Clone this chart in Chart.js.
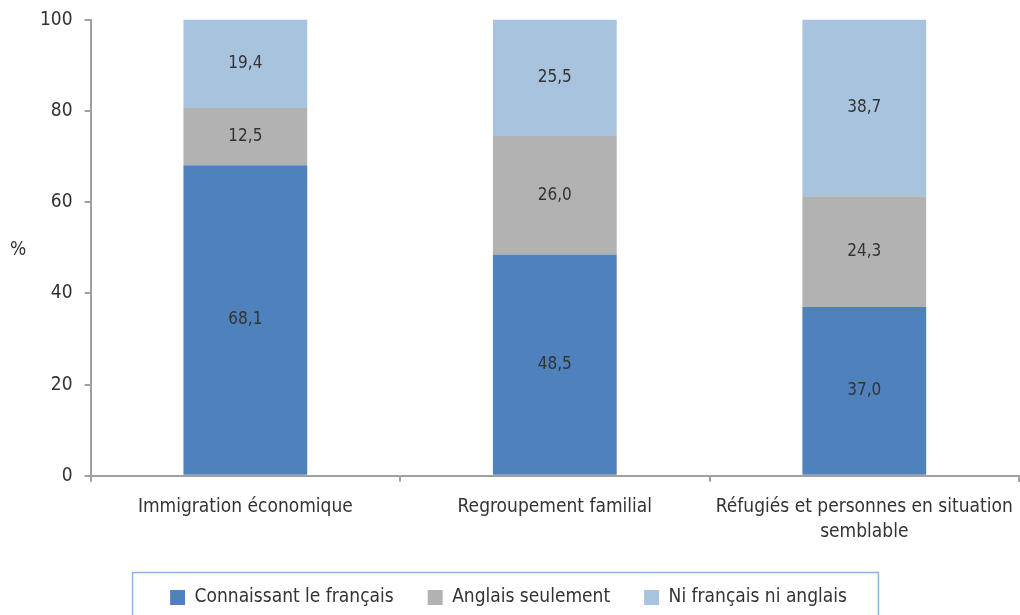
<!DOCTYPE html>
<html>
<head>
<meta charset="utf-8">
<script src="https://cdn.jsdelivr.net/npm/chart.js@4.4.1/dist/chart.umd.min.js"></script>
<style>
html,body{margin:0;padding:0;background:#fff;overflow:hidden;}
#wrap{width:1020px;height:615px;position:relative;}
</style>
</head>
<body>
<div id="wrap"><canvas id="c" width="1020" height="615"></canvas></div>
<script>
const categories = ['Immigration économique', 'Regroupement familial', ['Réfugiés et personnes en situation', 'semblable']];
const seriesNames = ['Connaissant le français', 'Anglais seulement', 'Ni français ni anglais'];
const francais = [68.1, 48.5, 37.0];
const anglaisSeulement = [12.5, 26.0, 24.3];
const niFrNiAn = [19.4, 25.5, 38.7];
const yTicks = [0, 20, 40, 60, 80, 100];
const yTitle = '%';

const FONT = "'Liberation Sans Narrow', 'Arial Narrow', 'DejaVu Sans Condensed', sans-serif";
const colors = ['#4f81bd', '#b2b2b2', '#a8c3de'];
const textColor = '#333333';
const axisColor = '#a0a0a0';

const labelPlugin = {
  id: 'extras',
  afterLayout(chart) {
    const lg = chart.legend;
    if (lg) { lg.left -= 15; lg.right -= 15; }
  },
  afterDatasetsDraw(chart) {
    const ctx = chart.ctx;
    ctx.save();
    ctx.font = '17px ' + FONT;
    ctx.fillStyle = textColor;
    ctx.textAlign = 'center';
    ctx.textBaseline = 'middle';
    chart.data.datasets.forEach((ds, i) => {
      const meta = chart.getDatasetMeta(i);
      meta.data.forEach((bar, j) => {
        const v = ds.data[j];
        const yc = (bar.y + bar.base) / 2;
        ctx.fillText(v.toFixed(1).replace('.', ','), bar.x, yc);
      });
    });
    // y title
    ctx.font = '19px ' + FONT;
    ctx.textAlign = 'center';
    const ys = chart.scales.y;
    ctx.fillText(yTitle, 18, (ys.top + ys.bottom) / 2 + 2);
    // legend border
    const lg = chart.legend;
    if (lg && lg.legendHitBoxes && lg.legendHitBoxes.length) {
      const hb = lg.legendHitBoxes;
      const l = Math.min(...hb.map(h => h.left)) - 38;
      const r = Math.max(...hb.map(h => h.left + h.width)) + 31;
      const t = hb[0].top - 16;
      ctx.strokeStyle = '#8db3e2';
      ctx.lineWidth = 1.5;
      ctx.strokeRect(l + 0.5, t + 0.5, r - l, chart.height - t + 10);
    }
    ctx.restore();
  }
};

new Chart(document.getElementById('c'), {
  type: 'bar',
  data: {
    labels: categories,
    datasets: [
      { label: seriesNames[0], data: francais, backgroundColor: colors[0] },
      { label: seriesNames[1], data: anglaisSeulement, backgroundColor: colors[1] },
      { label: seriesNames[2], data: niFrNiAn, backgroundColor: colors[2] }
    ]
  },
  options: {
    responsive: false,
    animation: false,
    devicePixelRatio: 1,
    layout: { padding: { left: 28, right: 1, top: 0, bottom: -2 } },
    datasets: { bar: { categoryPercentage: 0.4, barPercentage: 1.0, borderWidth: 0 } },
    plugins: {
      legend: {
        position: 'bottom',
        labels: {
          font: { family: FONT, size: 19 },
          color: textColor,
          boxWidth: 15,
          boxHeight: 15,
          padding: 34
        }
      },
      tooltip: { enabled: false }
    },
    scales: {
      x: {
        stacked: true,
        afterFit(scale) { scale.height -= 4; scale.paddingRight = 0; scale.paddingLeft = 0; },
        border: { display: true, color: axisColor, width: 2 },
        grid: { display: true, offset: true, drawOnChartArea: false, drawTicks: true, tickLength: 6, color: axisColor, lineWidth: 2 },
        ticks: { font: { family: FONT, size: 19, lineHeight: 1.32 }, color: textColor, padding: 13, maxRotation: 0, autoSkip: false }
      },
      y: {
        stacked: true,
        min: 0, max: 100,
        afterBuildTicks(axis) { axis.ticks = yTicks.map(v => ({ value: v })); },
        border: { display: true, color: axisColor, width: 2 },
        grid: { display: true, drawOnChartArea: false, drawTicks: true, tickLength: 6, color: axisColor, lineWidth: 2 },
        ticks: { font: { family: FONT, size: 19, lineHeight: 0.8 }, color: textColor, padding: 12 }
      }
    }
  },
  plugins: [labelPlugin]
});
</script>
</body>
</html>
